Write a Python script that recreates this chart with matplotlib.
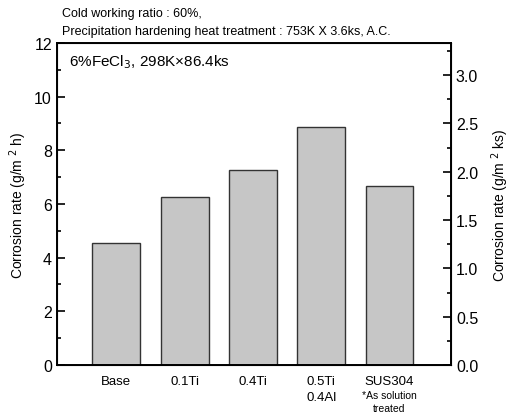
import matplotlib.pyplot as plt
import numpy as np
from matplotlib.ticker import MultipleLocator

# corrosion rate in 6% FeCl3, g/m^2 h
alloys = ["Base", "0.1Ti", "0.4Ti", "0.5Ti\n0.4Al", "SUS304"]
rate = [4.55, 6.26, 7.27, 8.86, 6.67]

plt.rcParams['font.family'] = ['Liberation Sans', 'DejaVu Sans']

fig = plt.figure(figsize=(5.12, 4.14), dpi=100)
ax = fig.add_axes([0.111, 0.116, 0.770, 0.778])

x = np.arange(len(alloys))
ax.bar(x, rate, width=0.7, color='#c6c6c6', edgecolor='#333333', linewidth=1.0)

ax.set_xlim(-0.87, 4.9)
ax.set_ylim(0, 12)
ax.yaxis.set_major_locator(MultipleLocator(2))
ax.yaxis.set_minor_locator(MultipleLocator(1))
ax.tick_params(axis='y', which='both', direction='in', labelsize=11.5, width=1.2)
ax.tick_params(axis='y', which='major', length=6)
ax.tick_params(axis='y', which='minor', length=3)
ax.tick_params(axis='x', length=0, labelsize=9.5, pad=7)
ax.set_xticks(x)
ax.set_xticklabels(alloys, linespacing=1.5)
ax.set_ylabel("Corrosion rate (g/m $^{2}$ h)", fontsize=10, labelpad=4)
for s in ax.spines.values():
    s.set_linewidth(1.4)

# same data in g/m^2 ks (1 ks = 1/3.6 h)
ax2 = ax.twinx()
ax2.set_ylim(0, 12 / 3.6)
ax2.yaxis.set_major_locator(MultipleLocator(0.5))
ax2.yaxis.set_minor_locator(MultipleLocator(0.25))
ax2.yaxis.set_major_formatter(plt.FormatStrFormatter('%.1f'))
ax2.tick_params(axis='y', which='both', direction='in', labelsize=11.5, width=1.2)
ax2.tick_params(axis='y', which='major', length=6)
ax2.tick_params(axis='y', which='minor', length=3)
ax2.set_ylabel("Corrosion rate (g/m $^{2}$ ks)", fontsize=10, labelpad=8)

ax.text(0.03, 0.97, "6%FeCl$_3$, 298K×86.4ks", transform=ax.transAxes,
        fontsize=11, va='top', ha='left')
ax.annotate("*As solution\ntreated", xy=(4, 0), xycoords=('data', 'axes fraction'),
            xytext=(0, -18), textcoords='offset points', ha='center', va='top',
            fontsize=7.5, linespacing=1.4)

fig.text(0.121, 0.965, "Cold working ratio : 60%,", fontsize=9, va='center')
fig.text(0.121, 0.922, "Precipitation hardening heat treatment : 753K X 3.6ks, A.C.",
         fontsize=9, va='center')

fig.savefig("out.png", dpi=100)
